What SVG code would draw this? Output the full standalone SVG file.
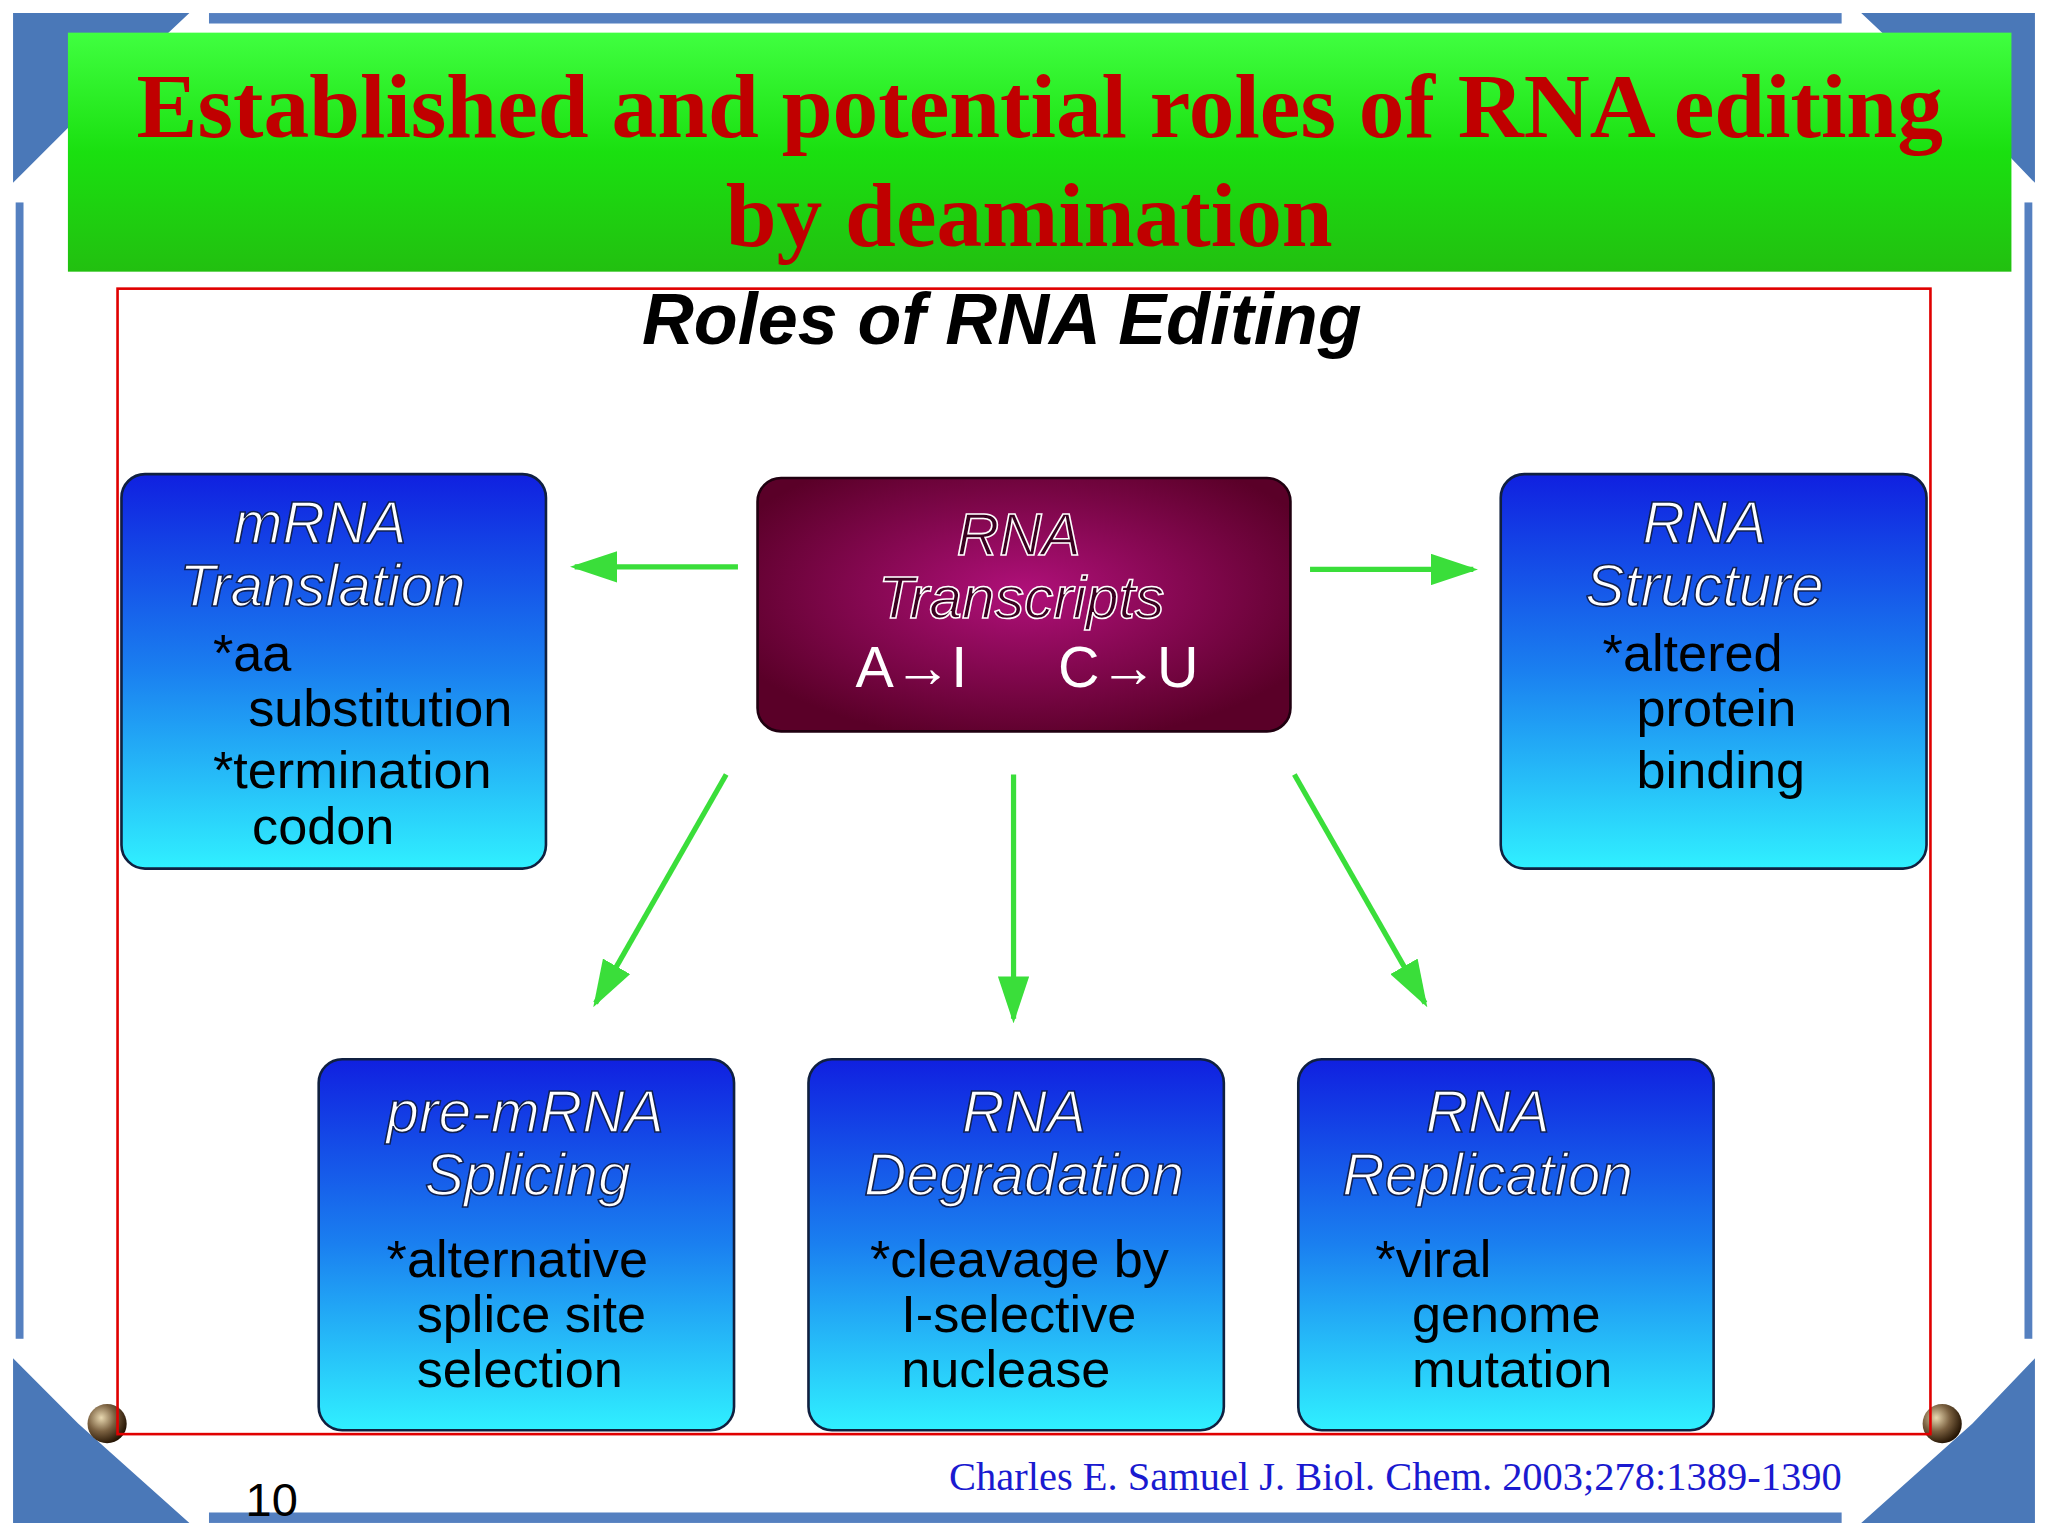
<svg xmlns="http://www.w3.org/2000/svg" width="2048" height="1536" viewBox="0 0 2048 1536">
<defs>
<linearGradient id="blue" x1="0" y1="0" x2="0" y2="1"><stop offset="0" stop-color="#1020e0"/><stop offset="0.5" stop-color="#1a80f0"/><stop offset="1" stop-color="#30f0ff"/></linearGradient>
<radialGradient id="maroon" cx="0.5" cy="0.45" r="0.6"><stop offset="0" stop-color="#b0107a"/><stop offset="1" stop-color="#5a0028"/></radialGradient>
<linearGradient id="green" x1="0" y1="0" x2="0" y2="1"><stop offset="0" stop-color="#40ff40"/><stop offset="0.5" stop-color="#1ae010"/><stop offset="1" stop-color="#22c010"/></linearGradient>
<radialGradient id="ball" cx="0.35" cy="0.35" r="0.7"><stop offset="0" stop-color="#e8d8b0"/><stop offset="0.5" stop-color="#7a6040"/><stop offset="1" stop-color="#201000"/></radialGradient>
<marker id="ahb" viewBox="0 0 10 10" refX="9" refY="5" markerWidth="36" markerHeight="24" markerUnits="userSpaceOnUse" orient="auto" preserveAspectRatio="none"><path d="M0,0 L10,5 L0,10 z" fill="#3ade3a"/></marker>
</defs>
<style>
.box{fill:url(#blue);stroke:#102040;stroke-width:2}
.ttl{font-family:"Liberation Sans",Arial,sans-serif;font-style:italic;font-size:45px;fill:#fff;stroke:#102050;stroke-width:1.2;text-anchor:middle}
.body{font-family:"Liberation Sans",Arial,sans-serif;font-size:40px;fill:#000}
.arr{stroke:#3ade3a;stroke-width:4;fill:none;marker-end:url(#ahb)}
</style>
<rect width="2048" height="1536" fill="#fff"/>
<g transform="scale(1.30612)">
<g id="frame">
<polygon points="10,10 145,10 60,90 10,140" fill="#4a78b8"/>
<polygon points="1558,10 1425,10 1510,90 1558,140" fill="#4a78b8"/>
<polygon points="10,1166 145,1166 60,1090 10,1040" fill="#4a78b8"/>
<polygon points="1558,1166 1425,1166 1510,1090 1558,1040" fill="#4a78b8"/>
<rect x="160" y="10" width="1250" height="8" fill="#5580c0"/>
<rect x="160" y="1158" width="1250" height="8" fill="#5580c0"/>
<rect x="12" y="155" width="6" height="870" fill="#5580c0"/>
<rect x="1550" y="155" width="6" height="870" fill="#5580c0"/>
<circle cx="82" cy="1090" r="15" fill="url(#ball)"/>
<circle cx="1487" cy="1090" r="15" fill="url(#ball)"/>
</g>
<g id="title">
<rect x="52" y="25" width="1488" height="183" fill="url(#green)"/>
<text x="796" y="105" font-family="Liberation Serif,serif" font-weight="bold" font-size="70" fill="#c00000" text-anchor="middle">Established and potential roles of RNA editing</text>
<text x="788" y="188" font-family="Liberation Serif,serif" font-weight="bold" font-size="70" fill="#c00000" text-anchor="middle">by deamination</text>
</g>
<rect x="90" y="221" width="1388" height="877" fill="none" stroke="#e00000" stroke-width="2"/>
<text x="767" y="263" font-family="Liberation Sans,Arial,sans-serif" font-weight="bold" font-style="italic" font-size="55" fill="#000" text-anchor="middle">Roles of RNA Editing</text>
<g id="connectors">
<line class="arr" x1="565" y1="434" x2="440" y2="434"/>
<line class="arr" x1="1003" y1="436" x2="1128" y2="436"/>
<line class="arr" x1="556" y1="593" x2="456" y2="768"/>
<line class="arr" x1="776" y1="593" x2="776" y2="780"/>
<line class="arr" x1="991" y1="593" x2="1091" y2="768"/>
</g>
<g id="center">
<rect x="580" y="366" width="408" height="194" rx="18" fill="url(#maroon)" stroke="#200010" stroke-width="2"/>
<text x="780" y="425" class="ttl" style="fill:#3a0020;stroke:#fff">RNA</text>
<text x="782" y="473" class="ttl" style="fill:#3a0020;stroke:#fff">Transcripts</text>
<text x="655" y="526" class="body" style="fill:#fff;font-size:44px">A→I</text>
<text x="810" y="526" class="body" style="fill:#fff;font-size:44px">C→U</text>
</g>
<g id="mrna">
<rect class="box" x="93" y="363" width="325" height="302" rx="18"/>
<text x="245" y="416" class="ttl">mRNA</text>
<text x="247" y="464" class="ttl">Translation</text>
<text x="163" y="514" class="body">*aa</text>
<text x="190" y="556" class="body">substitution</text>
<text x="163" y="603" class="body">*termination</text>
<text x="193" y="646" class="body">codon</text>
</g>
<g id="structure">
<rect class="box" x="1149" y="363" width="326" height="302" rx="18"/>
<text x="1305" y="416" class="ttl">RNA</text>
<text x="1305" y="464" class="ttl">Structure</text>
<text x="1227" y="514" class="body">*altered</text>
<text x="1253" y="556" class="body">protein</text>
<text x="1253" y="603" class="body">binding</text>
</g>
<g id="splicing">
<rect class="box" x="244" y="811" width="318" height="284" rx="18"/>
<text x="402" y="867" class="ttl">pre-mRNA</text>
<text x="404" y="915" class="ttl">Splicing</text>
<text x="296" y="978" class="body">*alternative</text>
<text x="319" y="1020" class="body">splice site</text>
<text x="319" y="1062" class="body">selection</text>
</g>
<g id="degradation">
<rect class="box" x="619" y="811" width="318" height="284" rx="18"/>
<text x="784" y="867" class="ttl">RNA</text>
<text x="784" y="915" class="ttl">Degradation</text>
<text x="666" y="978" class="body">*cleavage by</text>
<text x="690" y="1020" class="body">I-selective</text>
<text x="690" y="1062" class="body">nuclease</text>
</g>
<g id="replication">
<rect class="box" x="994" y="811" width="318" height="284" rx="18"/>
<text x="1139" y="867" class="ttl">RNA</text>
<text x="1139" y="915" class="ttl">Replication</text>
<text x="1053" y="978" class="body">*viral</text>
<text x="1081" y="1020" class="body">genome</text>
<text x="1081" y="1062" class="body">mutation</text>
</g>
<text x="188" y="1161" font-family="Liberation Sans,Arial,sans-serif" font-size="36" fill="#000">10</text>
<text x="1410" y="1141" font-family="Liberation Serif,serif" font-size="31" fill="#1a1ad0" text-anchor="end">Charles E. Samuel J. Biol. Chem. 2003;278:1389-1390</text>
</g>
</svg>
